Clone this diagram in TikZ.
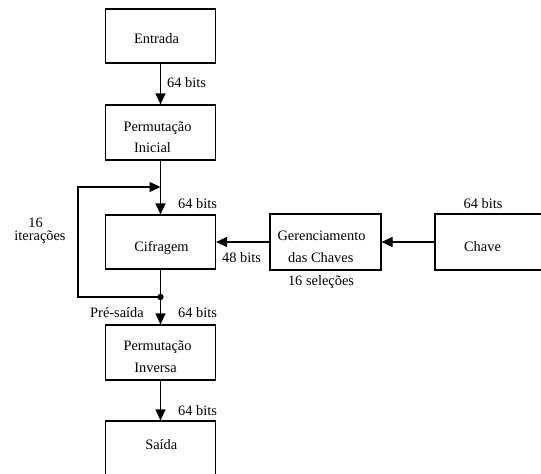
\documentclass[tikz,border=0pt]{standalone}
\usepackage{fontspec}
\setmainfont{Liberation Serif}
\usetikzlibrary{arrows.meta}
\tikzset{
  box/.style={draw, line width=1.2pt, minimum width=110pt, inner sep=0pt, anchor=center},
  txt/.style={inner sep=0pt, anchor=base, font=\fontsize{14.4}{17}\selectfont},
  lblw/.style={inner sep=0pt, anchor=base west, font=\fontsize{14.4}{17}\selectfont},
  lble/.style={inner sep=0pt, anchor=base east, font=\fontsize{14.4}{17}\selectfont},
  conn/.style={line width=1.2pt, -{Triangle[length=11pt,width=10pt]}},
  plain/.style={line width=1.2pt}
}
\begin{document}
\begin{tikzpicture}[x=1pt,y=-1pt]
\useasboundingbox (0,0) rectangle (541,474);
\clip (0,0) rectangle (541,474);
\fill[white] (0,0) rectangle (541,474);
% boxes
\node[box, minimum height=54pt] (entrada) at (160.5,36) {};
\node[box, minimum height=55pt] (inicial) at (160.5,132.5) {};
\node[box, minimum height=54pt] (cifra) at (160.5,242) {};
\node[box, minimum height=55pt] (inversa) at (160.5,352.5) {};
\node[box, minimum height=56pt] (saida) at (160.5,449) {};
\node[box, minimum width=111pt, minimum height=56pt] (geren) at (325.5,242) {};
\node[box, minimum width=115pt, minimum height=56pt] (chave) at (492.5,242) {};
% box texts
\node[txt] (tEntrada) at (156.5,43.5) {Entrada};
\node[txt] (tPerm1) at (157.5,131.5) {Permutação};
\node[txt] (tInicial) at (152.5,152.5) {Inicial};
\node[txt] (tCifra) at (161.5,251.5) {Cifragem};
\node[txt] (tPerm2) at (157.5,350) {Permutação};
\node[txt] (tInversa) at (155.5,372) {Inversa};
\node[txt] (tSaida) at (161.3,449.5) {Saída};
\node[txt] (tGeren1) at (321.5,240) {Gerenciamento};
\node[txt] (tGeren2) at (320.8,262.5) {das Chaves};
\node[txt] (tChave) at (482.5,251.5) {Chave};
% labels
\node[lblw] (l1) at (167,87.5) {64 bits};
\node[lblw] (l2) at (178,208) {64 bits};
\node[lblw] (l3) at (178,317) {64 bits};
\node[lblw] (l4) at (178,415.7) {64 bits};
\node[lble] (lpre) at (144,317) {Pré-saída};
\node[lblw] (l48) at (222,262.5) {48 bits};
\node[txt] (lsel) at (321,285) {16 seleções};
\node[txt] (lch) at (483,208) {64 bits};
\node[txt] (lit1) at (35.5,227) {16};
\node[txt] (lit2) at (40,240.5) {iterações};
% connectors
\coordinate (dot) at (160.5,297);
\coordinate (loopbl) at (78,297);
\coordinate (looptl) at (78,187);
\coordinate (loopend) at (160.5,187);
\draw[conn] (entrada.south) -- (inicial.north);
\draw[conn] (inicial.south) -- (cifra.north);
\draw[conn] (cifra.south) -- (inversa.north);
\draw[conn] (inversa.south) -- (saida.north);
\draw[conn] (dot) -- (loopbl) -- (looptl) -- (loopend);
\fill (dot) circle (3.2pt);
\draw[conn] (geren.west) -- (cifra.east);
\draw[conn] (chave.west) -- (geren.east);
\end{tikzpicture}
\end{document}
